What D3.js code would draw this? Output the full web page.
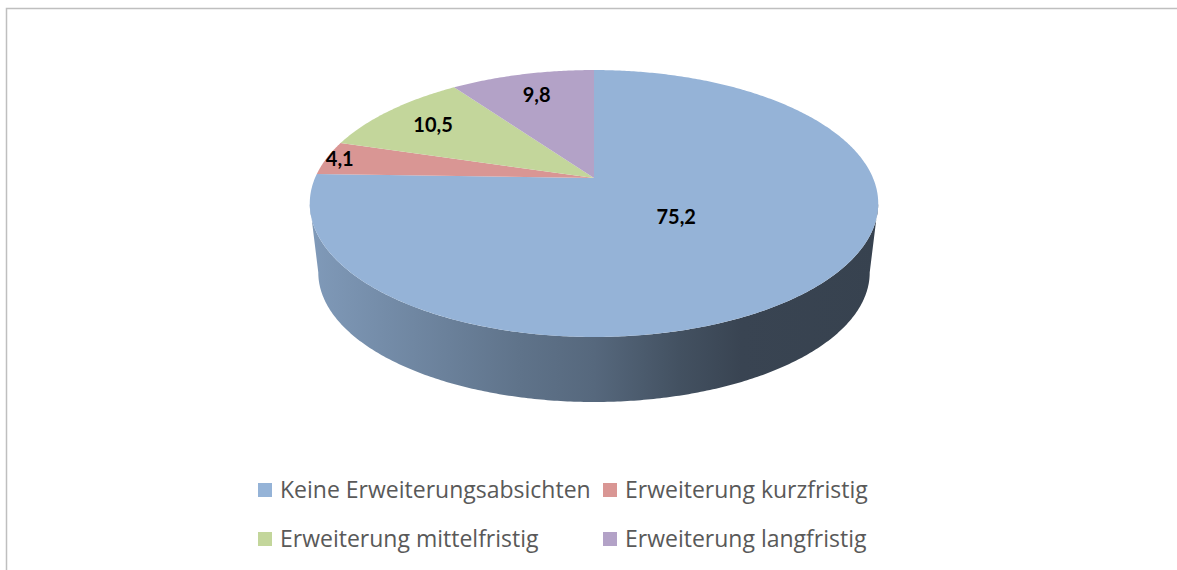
<!DOCTYPE html>
<html>
<head>
<meta charset="utf-8">
<script src="https://cdn.jsdelivr.net/npm/d3@7"></script>
<style>
  body { margin: 0; background: #fff; }
  svg { display: block; }
</style>
</head>
<body>
<svg id="chart"></svg>
<script>
const categories = ["Keine Erweiterungsabsichten", "Erweiterung kurzfristig", "Erweiterung mittelfristig", "Erweiterung langfristig"]
const values = [75.2, 4.1, 10.5, 9.8]
const colors = ["#95b3d7", "#d99694", "#c3d69b", "#b3a2c7"]

const width = 1177, height = 570
const svg = d3.select("#chart").attr("width", width).attr("height", height)

// frame (only top + left edges visible)
svg.append("path")
  .attr("d", `M6.5,${height} V8.5 H${width}`)
  .attr("fill", "none")
  .attr("stroke", "#bfbfbf")
  .attr("stroke-width", 1.5)

// perspective pie geometry
const cx = 594, cy = 178        // projected centre of top face
const ax = 279, by = 128.6      // projected radii at the centre line
const persp = 0.191             // perspective strength
const depth = 69.8, shrink = 0.97

function proj(a, f, bottom) {
  const u = f * Math.sin(a), v = f * Math.cos(a)
  const den = 1 + persp * v
  const k = bottom ? shrink : 1
  return [cx + k * ax * u / den, cy + (bottom ? depth : 0) - k * by * v / den]
}

const pie = d3.pie().sort(null).value(d => d)
const arcs = pie(values)
const line = d3.line()

function arcPoints(a0, a1, bottom) {
  const n = Math.max(2, Math.ceil(Math.abs(a1 - a0) / 0.01))
  return d3.range(n + 1).map(i => proj(a0 + (a1 - a0) * i / n, 1, bottom))
}

// side wall (front half, between silhouette angles)
const aR = Math.acos(-persp), aL = 2 * Math.PI - aR
const defs = svg.append("defs")
const shade = [[0, 0.42], [0.37, 1.25], [0.5, 1.53], [0.65, 2.24], [0.76, 2.7], [1, 2.8]]

arcs.forEach((d, i) => {
  const s0 = Math.max(d.startAngle, aR), s1 = Math.min(d.endAngle, aL)
  if (s1 <= s0) return
  const g = defs.append("linearGradient")
    .attr("id", "side" + i)
    .attr("gradientUnits", "userSpaceOnUse")
    .attr("x1", cx - ax * 1.02).attr("x2", cx + ax * 1.02)
    .attr("y1", 0).attr("y2", 0)
  shade.forEach(([o, k]) => {
    g.append("stop").attr("offset", o).attr("stop-color", d3.color(colors[i]).darker(k))
  })
  const pts = arcPoints(s0, s1, false).concat(arcPoints(s1, s0, true))
  svg.append("path")
    .attr("d", line(pts) + "Z")
    .attr("fill", `url(#side${i})`)
})

// top faces
svg.append("g")
  .selectAll("path")
  .data(arcs)
  .join("path")
  .attr("d", d => line([[cx, cy]].concat(arcPoints(d.startAngle, d.endAngle, false))) + "Z")
  .attr("fill", (d, i) => colors[i])

// value labels
const total = d3.sum(values)
function labelRadius(v) {
  const share = v / total
  if (share > 0.5) return 0.4
  if (share < 0.06) return 0.95
  return 0.77
}
svg.append("g")
  .selectAll("text")
  .data(arcs)
  .join("text")
  .attr("transform", d => {
    const p = proj((d.startAngle + d.endAngle) / 2, labelRadius(d.value), false)
    return `translate(${p[0]},${p[1]})`
  })
  .attr("text-anchor", "middle")
  .attr("dy", "0.35em")
  .attr("font-family", "Lato, 'Open Sans', sans-serif")
  .attr("font-weight", "bold")
  .attr("font-size", 20)
  .attr("fill", "#000")
  .text(d => d3.format(".1f")(d.value).replace(".", ","))

// legend
const legX = [258, 603], legY = [490, 539]
const legend = svg.append("g")
  .selectAll("g")
  .data(categories)
  .join("g")
  .attr("transform", (d, i) => `translate(${legX[i % 2]},${legY[Math.floor(i / 2)]})`)
legend.append("rect")
  .attr("x", 0).attr("y", -7)
  .attr("width", 14).attr("height", 14)
  .attr("fill", (d, i) => colors[i])
legend.append("text")
  .attr("x", 22)
  .attr("dy", "0.35em")
  .attr("font-family", "'Open Sans', sans-serif")
  .attr("font-size", 23)
  .attr("fill", "#595959")
  .text(d => d)
</script>
</body>
</html>
